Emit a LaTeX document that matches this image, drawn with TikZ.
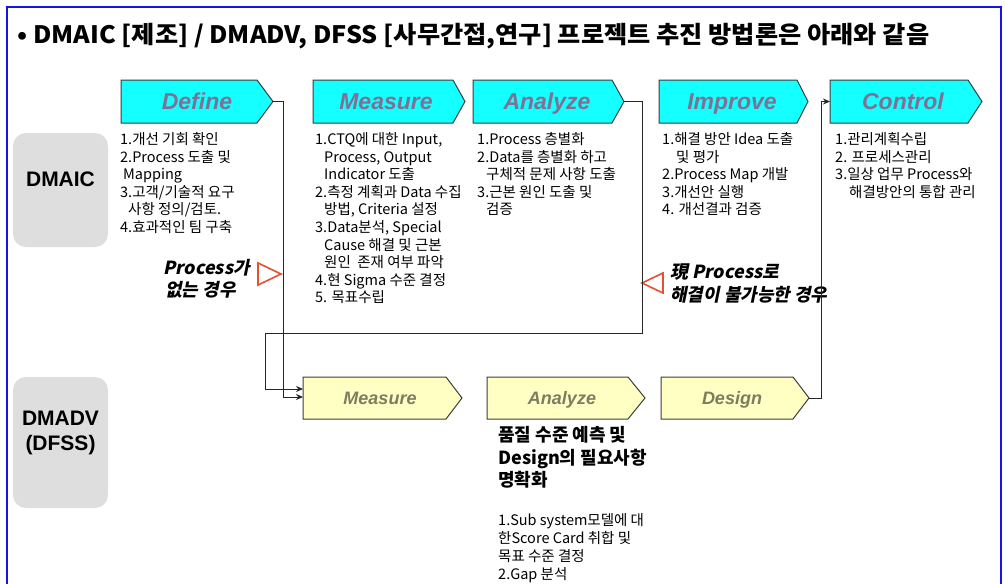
\documentclass[tikz,border=0pt]{standalone}
\usepackage{fontspec}
\usepackage{graphicx}
\setmainfont{Noto Sans CJK KR}
\newfontfamily\krsl[FakeSlant=0.2]{Noto Sans CJK KR}
\newfontfamily\arial{Liberation Sans}
\usetikzlibrary{arrows.meta}
\definecolor{cyanfill}{RGB}{20,255,255}
\definecolor{yelfill}{RGB}{255,255,196}
\definecolor{cyantext}{RGB}{128,112,150}
\definecolor{yeltext}{RGB}{125,125,95}
\definecolor{boxline}{RGB}{60,60,60}
\definecolor{grayfill}{RGB}{222,222,222}
\definecolor{frameblue}{RGB}{20,20,235}
\definecolor{trired}{RGB}{228,80,50}
\tikzset{
  cyanbox/.style={draw=boxline, line width=1pt, fill=cyanfill},
  yelbox/.style={draw=boxline, line width=1pt, fill=yelfill},
  toplabel/.style={anchor=base, font=\arial\bfseries\itshape\fontsize{23}{26}\selectfont, text=cyantext, inner sep=0pt},
  botlabel/.style={anchor=base, font=\arial\bfseries\itshape\fontsize{18}{20}\selectfont, text=yeltext, inner sep=0pt},
  lst/.style={anchor=north west, inner sep=0pt, align=left, font=\fontsize{14.5}{17.6}\selectfont},
  sidebox/.style={fill=grayfill, rounded corners=13pt, inner sep=0pt},
  sidetext/.style={inner sep=0pt, align=center, font=\arial\bfseries\fontsize{21}{25}\selectfont},
  conn/.style={draw=black!85, line width=0.9pt},
  tri/.style={draw=trired, line width=1.6pt, fill=white, line join=miter},
  note/.style={anchor=north west, inner sep=0pt, align=left, font=\krsl\bfseries\fontsize{18}{20.5}\selectfont}
}
\begin{document}
\begin{tikzpicture}[x=1pt,y=-1pt]
\useasboundingbox (0,0) rectangle (1005,584);
\fill[white] (0,0) rectangle (1005,584);
% frame
\draw[frameblue, line width=1.3pt] (7,584) -- (7,7) -- (1001,7) -- (1001,584);
% title
\node[anchor=west, inner sep=0pt, font=\bfseries\fontsize{24}{28}\selectfont] (title) at (17,36)
  {\resizebox{912pt}{\height}{• DMAIC [제조] / DMADV, DFSS [사무간접,연구] 프로젝트 추진 방법론은 아래와 같음}};
% side boxes
\node[sidebox, minimum width=95pt, minimum height=114pt] (dmaicbox) at (60.5,190) {};
\node[sidetext] (dmaic) at (60.5,179) {DMAIC};
\node[sidebox, minimum width=95pt, minimum height=131pt] (dmadvbox) at (60.5,442.5) {};
\node[sidetext] (dmadv) at (60.5,433) {DMADV\\(DFSS)};
% top pentagons
\draw[cyanbox] (121,80) -- (257,80) -- (273,101.5) -- (257,123) -- (121,123) -- cycle;
\draw[cyanbox] (313,80) -- (453,80) -- (465,101.5) -- (453,123) -- (313,123) -- cycle;
\draw[cyanbox] (473,80) -- (612,80) -- (624,101.5) -- (612,123) -- (473,123) -- cycle;
\draw[cyanbox] (659,80) -- (797,80) -- (808,101.5) -- (797,123) -- (659,123) -- cycle;
\draw[cyanbox] (830,80) -- (968,80) -- (982,101.5) -- (968,123) -- (830,123) -- cycle;
\node[toplabel] (define) at (197,109.5) {Define};
\node[toplabel] (measure) at (386,109.5) {Measure};
\node[toplabel] (analyze) at (547,109.5) {Analyze};
\node[toplabel] (improve) at (732,109.5) {Improve};
\node[toplabel] (control) at (903,109.5) {Control};
\coordinate (defTip) at (273,101.5);
\coordinate (anaTip) at (624,101.5);
\coordinate (ctrlIn) at (830,101.5);
% bottom pentagons
\draw[yelbox] (303,377) -- (446,377) -- (462,398) -- (446,419) -- (303,419) -- cycle;
\draw[yelbox] (487,377) -- (628,377) -- (645,398) -- (628,419) -- (487,419) -- cycle;
\draw[yelbox] (661,377) -- (793,377) -- (809,398) -- (793,419) -- (661,419) -- cycle;
\node[botlabel] (measure2) at (380,404.5) {Measure};
\node[botlabel] (analyze2) at (562,404.5) {Analyze};
\node[botlabel] (design) at (732,404.5) {Design};
\coordinate (m2inA) at (303,389);
\coordinate (m2inB) at (303,397);
\coordinate (desTip) at (809,398);
% lists
\node[lst] (deflist) at (120,132) {\strut 1.개선 기회 확인\\2.Process 도출 및\\\hspace*{3pt}Mapping\\3.고객/기술적 요구\\\hspace*{8pt}사항 정의/검토.\\4.효과적인 팀 구축};
\node[lst] (meslist) at (315,132) {\strut 1.CTQ에 대한 Input,\\\hspace*{9pt}Process, Output\\\hspace*{9pt}Indicator 도출\\2.측정 계획과 Data 수집\\\hspace*{9pt}방법, Criteria 설정\\3.Data분석, Special\\\hspace*{9pt}Cause 해결 및 근본\\\hspace*{9pt}원인 \ 존재 여부 파악\\4.현 Sigma 수준 결정\\5. 목표수립};
\node[lst] (analist) at (477,132) {\strut 1.Process 층별화\\2.Data를 층별화 하고\\\hspace*{9pt}구체적 문제 사항 도출\\3.근본 원인 도출 및\\\hspace*{9pt}검증};
\node[lst] (implist) at (662,132) {\strut 1.해결 방안 Idea 도출\\\hspace*{14pt}및 평가\\2.Process Map 개발\\3.개선안 실행\\4. 개선결과 검증};
\node[lst] (ctrllist) at (835,132) {\strut 1.관리계획수립\\2. 프로세스관리\\3.일상 업무 Process와\\\hspace*{14pt}해결방안의 통합 관리};
% DFSS analyze text
\node[anchor=north west, inner sep=0pt, align=left, font=\bfseries\fontsize{18}{22.5}\selectfont] (goal) at (498,426)
  {\strut 품질 수준 예측 및\\Design의 필요사항\\명확화};
\node[anchor=north west, inner sep=0pt, align=left, font=\fontsize{14.5}{18}\selectfont] (gaplist) at (498,512.5)
  {\strut 1.Sub system모델에 대\\한Score Card 취합 및\\목표 수준 결정\\2.Gap 분석};
% notes
\node[note] (note1) at (163,259) {\strut Process가\\\hspace*{2pt}없는 경우};
\node[note] (note2) at (670,264) {\strut 現 Process로\\해결이 불가능한 경우};
\draw[tri] (258,263) -- (281,274) -- (258,285) -- cycle;
\draw[tri] (663,273) -- (642,283) -- (663,293) -- cycle;
% connectors
\draw[conn, -{Stealth[length=7pt,width=6pt]}] (defTip) -- (283,101.5) -- (283,397) -- (m2inB);
\draw[conn, -{Stealth[length=7pt,width=6pt]}] (anaTip) -- (642,101.5) -- (642,333) -- (265,333) -- (265,389) -- (m2inA);
\draw[conn, -{Stealth[length=7pt,width=6pt]}] (desTip) -- (821,398) -- (821,101.5) -- (ctrlIn);
\end{tikzpicture}
\end{document}
